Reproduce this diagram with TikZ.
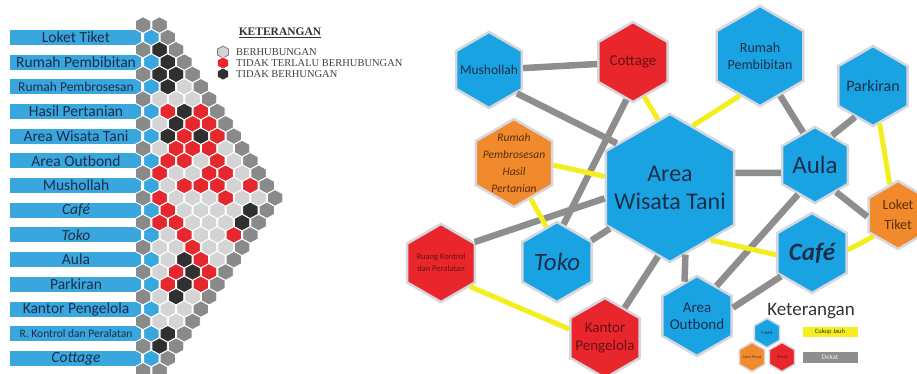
\documentclass[tikz,border=0pt]{standalone}
\usepackage{fontspec}
\setmainfont{Carlito}
\newfontfamily\tmsfont{Liberation Serif}
\usetikzlibrary{shapes.geometric}
\definecolor{barblue}{HTML}{3AA6DE}
\definecolor{mgray}{HTML}{8A8A8A}
\definecolor{mL}{HTML}{D4D4D6}
\definecolor{mR}{HTML}{E5282D}
\definecolor{mK}{HTML}{303030}
\definecolor{nblue}{HTML}{1AA3E3}
\definecolor{nred}{HTML}{E8262C}
\definecolor{norange}{HTML}{F08A2C}
\definecolor{edgegray}{HTML}{8E8E8E}
\definecolor{edgeyellow}{HTML}{F4EE1E}
\definecolor{navy}{HTML}{1A2E4A}
\definecolor{maroon}{HTML}{6A1014}
\definecolor{brownish}{HTML}{5A2E0C}
\definecolor{hexrim}{HTML}{D6D6DE}
\newcommand\fsz[2]{\fontsize{#1}{#2}\selectfont}
\newcommand\mhexat[3]{\path[fill=#3,draw=white,line width=0.9pt] (143+8.25*#1,25+12.35*#2) +(0,8.3) -- +(7.7,4.15) -- +(7.7,-4.15) -- +(0,-8.3) -- +(-7.7,-4.15) -- +(-7.7,4.15) -- cycle;}
\begin{document}
\begin{tikzpicture}[x=1pt,y=-1pt,
  lbl/.style={text=navy,font=\fsz{15.5}{17},inner sep=0pt},
  gnode/.style={regular polygon,regular polygon sides=6,shape border rotate=30,draw=hexrim,line width=2.5pt,inner sep=0pt,minimum size=#1},
  gline/.style={draw=edgegray,line width=6.5pt},
  yline/.style={draw=edgeyellow,line width=5pt},
  ntext/.style={text=navy,align=center,inner sep=0pt},
  legtext/.style={anchor=west,inner sep=0pt,font=\tmsfont\fsz{10.5}{12},text=black!75}]
\useasboundingbox (0,0) rectangle (917,374);
\fill[white] (0,0) rectangle (917,374);

% ---------- left matrix ----------
\foreach \i in {0,...,13} {
  \fill[barblue] (10,37.35+24.7*\i-7.5) rectangle (141,37.35+24.7*\i+7.5);
}
\foreach \r in {0,2,...,28} { \mhexat{0}{\r}{mgray} }
\foreach \r in {1,3,...,27} { \mhexat{1}{\r}{barblue} }
\foreach \r in {0,...,14} { \pgfmathtruncatemacro\cc{\r+2} \mhexat{\cc}{\r}{mgray} }
\foreach \r in {15,...,28} { \pgfmathtruncatemacro\cc{30-\r} \mhexat{\cc}{\r}{mgray} }
\foreach \r/\c/\col in {2/2/mK,3/3/mK,4/2/mK,4/4/mK,5/3/mK,5/5/mL,6/2/mL,6/4/mL,6/6/mL,
  7/3/mR,7/5/mK,7/7/mR,8/2/mL,8/4/mK,8/6/mR,8/8/mR,9/3/mK,9/5/mR,9/7/mK,9/9/mR,
  10/2/mL,10/4/mR,10/6/mR,10/8/mR,10/10/mL,11/3/mR,11/5/mR,11/7/mL,11/9/mR,11/11/mL,
  12/2/mR,12/4/mL,12/6/mL,12/8/mR,12/10/mR,12/12/mL,13/3/mL,13/5/mR,13/7/mR,13/9/mR,13/11/mL,13/13/mR,
  14/2/mR,14/4/mL,14/6/mL,14/8/mL,14/10/mR,14/12/mL,14/14/mL,
  15/3/mR,15/5/mL,15/7/mL,15/9/mL,15/11/mL,15/13/mK,
  16/2/mR,16/4/mR,16/6/mL,16/8/mL,16/10/mL,16/12/mK,
  17/3/mL,17/5/mR,17/7/mL,17/9/mL,17/11/mR,
  18/2/mL,18/4/mL,18/6/mR,18/8/mL,18/10/mL,
  19/3/mL,19/5/mK,19/7/mR,19/9/mL,20/2/mL,20/4/mR,20/6/mK,20/8/mR,
  21/3/mR,21/5/mK,21/7/mR,22/2/mL,22/4/mK,22/6/mL,23/3/mL,23/5/mL,24/2/mL,24/4/mL,25/3/mK,26/2/mK}
  { \mhexat{\c}{\r}{\col} }

\node[lbl] (l0) at (76,37.35) {Loket Tiket};
\node[lbl] (l1) at (76,62.05) {Rumah Pembibitan};
\node[lbl,font=\fsz{13.5}{15}] (l2) at (76,86.75) {Rumah Pembrosesan};
\node[lbl] (l3) at (76,111.45) {Hasil Pertanian};
\node[lbl] (l4) at (76,136.15) {Area Wisata Tani};
\node[lbl] (l5) at (76,160.85) {Area Outbond};
\node[lbl] (l6) at (76,185.55) {Mushollah};
\node[lbl,font=\fsz{15.5}{17}\itshape] (l7) at (76,210.25) {Café};
\node[lbl,font=\fsz{15.5}{17}\itshape] (l8) at (76,234.95) {Toko};
\node[lbl] (l9) at (76,259.65) {Aula};
\node[lbl] (l10) at (76,284.35) {Parkiran};
\node[lbl] (l11) at (76,309.05) {Kantor Pengelola};
\node[lbl,font=\fsz{11.5}{12}] (l12) at (76,333.75) {R. Kontrol dan Peralatan};
\node[lbl,font=\fsz{15.5}{17}\itshape] (l13) at (76,358.45) {Cottage};

% ---------- top legend ----------
\node[inner sep=0pt,font=\tmsfont\bfseries\fsz{11.5}{13},text=black!80] (ket1) at (280,33) {\underline{KETERANGAN}};
\path[fill=mL,draw=gray,line width=0.8pt] (223,52) +(0,6) -- +(5.4,3) -- +(5.4,-3) -- +(0,-6) -- +(-5.4,-3) -- +(-5.4,3) -- cycle;
\path[fill=mR,draw=white,line width=0.5pt] (223,63) +(0,6) -- +(5.4,3) -- +(5.4,-3) -- +(0,-6) -- +(-5.4,-3) -- +(-5.4,3) -- cycle;
\path[fill=mK,draw=white,line width=0.5pt] (223,74) +(0,6) -- +(5.4,3) -- +(5.4,-3) -- +(0,-6) -- +(-5.4,-3) -- +(-5.4,3) -- cycle;
\node[legtext] (lg1) at (236,52) {BERHUBUNGAN};
\node[legtext] (lg2) at (236,63) {TIDAK TERLALU BERHUBUNGAN};
\node[legtext] (lg3) at (236,74) {TIDAK BERHUNGAN};

% ---------- right graph ----------
\node[gnode=76,fill=nblue] (mus) at (489,70) {};
\node[gnode=80,fill=nred] (cot) at (633,62) {};
\node[gnode=100,fill=nblue] (rpb) at (760,56) {};
\node[gnode=80,fill=nblue] (par) at (873,86) {};
\node[gnode=148,fill=nblue] (awt) at (670,188) {};
\node[gnode=76,fill=nblue] (aul) at (815,165) {};
\node[gnode=68,fill=norange] (lok) at (898,215) {};
\node[gnode=80,fill=nblue] (caf) at (812,253) {};
\node[gnode=80,fill=nblue] (aob) at (697,316) {};
\node[gnode=80,fill=nblue] (tok) at (557,262) {};
\node[gnode=80,fill=nred] (kan) at (605,338) {};
\node[gnode=78,fill=nred] (rkp) at (441,263) {};
\node[gnode=88,fill=norange] (rph) at (514,163) {};

\draw[gline] (mus) -- (cot);
\draw[gline] (mus.-40) -- (awt.140);
\draw[gline] (cot.-100) -- (tok.80);
\draw[gline] (rpb.-63) -- (aul.110);
\draw[gline] (par.-120) -- (aul.60);
\draw[gline] (awt.13) -- (aul.193);
\draw[gline] (aul.-52) -- (lok.183);
\draw[gline] (aul.-120) -- (aob.57);
\draw[gline] (caf.-143) -- (aob.13);
\draw[gline] (awt.-77) -- (aob.110);
\draw[gline] (kan.57) -- (awt.-100);
\draw[gline] (tok.32) -- (awt.214);
\draw[gline] (rkp.32) -- (awt.189);
\draw[yline] (cot.-72) -- (awt.100);
\draw[yline] (rpb.-117) -- (awt.70);
\draw[yline] (par.-80) -- (lok.105);
\draw[yline] (rph.-3) -- (awt.170);
\draw[yline] (rph.-65) -- (tok.107);
\draw[yline] (awt.-52) -- (caf.183);
\draw[yline] (caf.5) -- (lok.221);
\draw[yline] (rkp.-39) -- (kan.166);

\node[ntext,font=\fsz{13.5}{15}] (tmus) at (mus) {Mushollah};
\node[ntext,text=maroon,font=\fsz{15}{16}] (tcot) at (cot) {Cottage};
\node[ntext,font=\fsz{14}{17}] (trpb) at (rpb) {Rumah\\Pembibitan};
\node[ntext,font=\fsz{16}{18}] (tpar) at (par) {Parkiran};
\node[ntext,font=\fsz{24}{28}] (tawt) at (awt) {Area\\Wisata Tani};
\node[ntext,font=\fsz{25}{28}] (taul) at (aul) {Aula};
\node[ntext,text=brownish,font=\fsz{14}{20}] (tlok) at (lok) {Loket\\Tiket};
\node[ntext,font=\fsz{25}{28}\bfseries\itshape] (tcaf) at (caf) {Café};
\node[ntext,font=\fsz{15}{17}] (taob) at (aob) {Area\\Outbond};
\node[ntext,font=\fsz{25}{28}\itshape] (ttok) at (tok) {Toko};
\node[ntext,text=maroon,font=\fsz{15}{18}] (tkan) at (kan) {Kantor\\Pengelola};
\node[ntext,text=maroon,font=\fsz{8.5}{12}] (trkp) at (rkp) {Ruang Kontrol\\dan Peralatan};
\node[ntext,text=brownish,font=\fsz{11.5}{17}\itshape] (trph) at (rph) {Rumah\\Pembrosesan\\Hasil\\Pertanian};

% ---------- bottom legend ----------
\node[inner sep=0pt,text=black!80,font=\fsz{19}{21}] (ket2) at (811,311) {Keterangan};
\node[gnode=29,fill=nblue,line width=1.5pt] (lgp) at (767,333) {};
\node[gnode=29,fill=norange,line width=1.5pt] (lgs) at (752,357) {};
\node[gnode=29,fill=nred,line width=1.5pt] (lgv) at (782,357) {};
\node[ntext,font=\fsz{4.5}{5}] (tlgp) at (lgp) {Publik};
\node[ntext,text=brownish,font=\fsz{4}{5}] (tlgs) at (lgs) {Semi Privat};
\node[ntext,text=maroon,font=\fsz{4.5}{5}] (tlgv) at (lgv) {Privat};
\node[fill=edgeyellow,minimum width=55,minimum height=10,inner sep=0pt,font=\fsz{6.5}{7},text=black!80] (lcj) at (830,332) {Cukup Jauh};
\node[fill=edgegray,minimum width=55,minimum height=11,inner sep=0pt,font=\fsz{7}{8},text=white!85!gray] (ldk) at (830,357) {Dekat};
\end{tikzpicture}
\end{document}
